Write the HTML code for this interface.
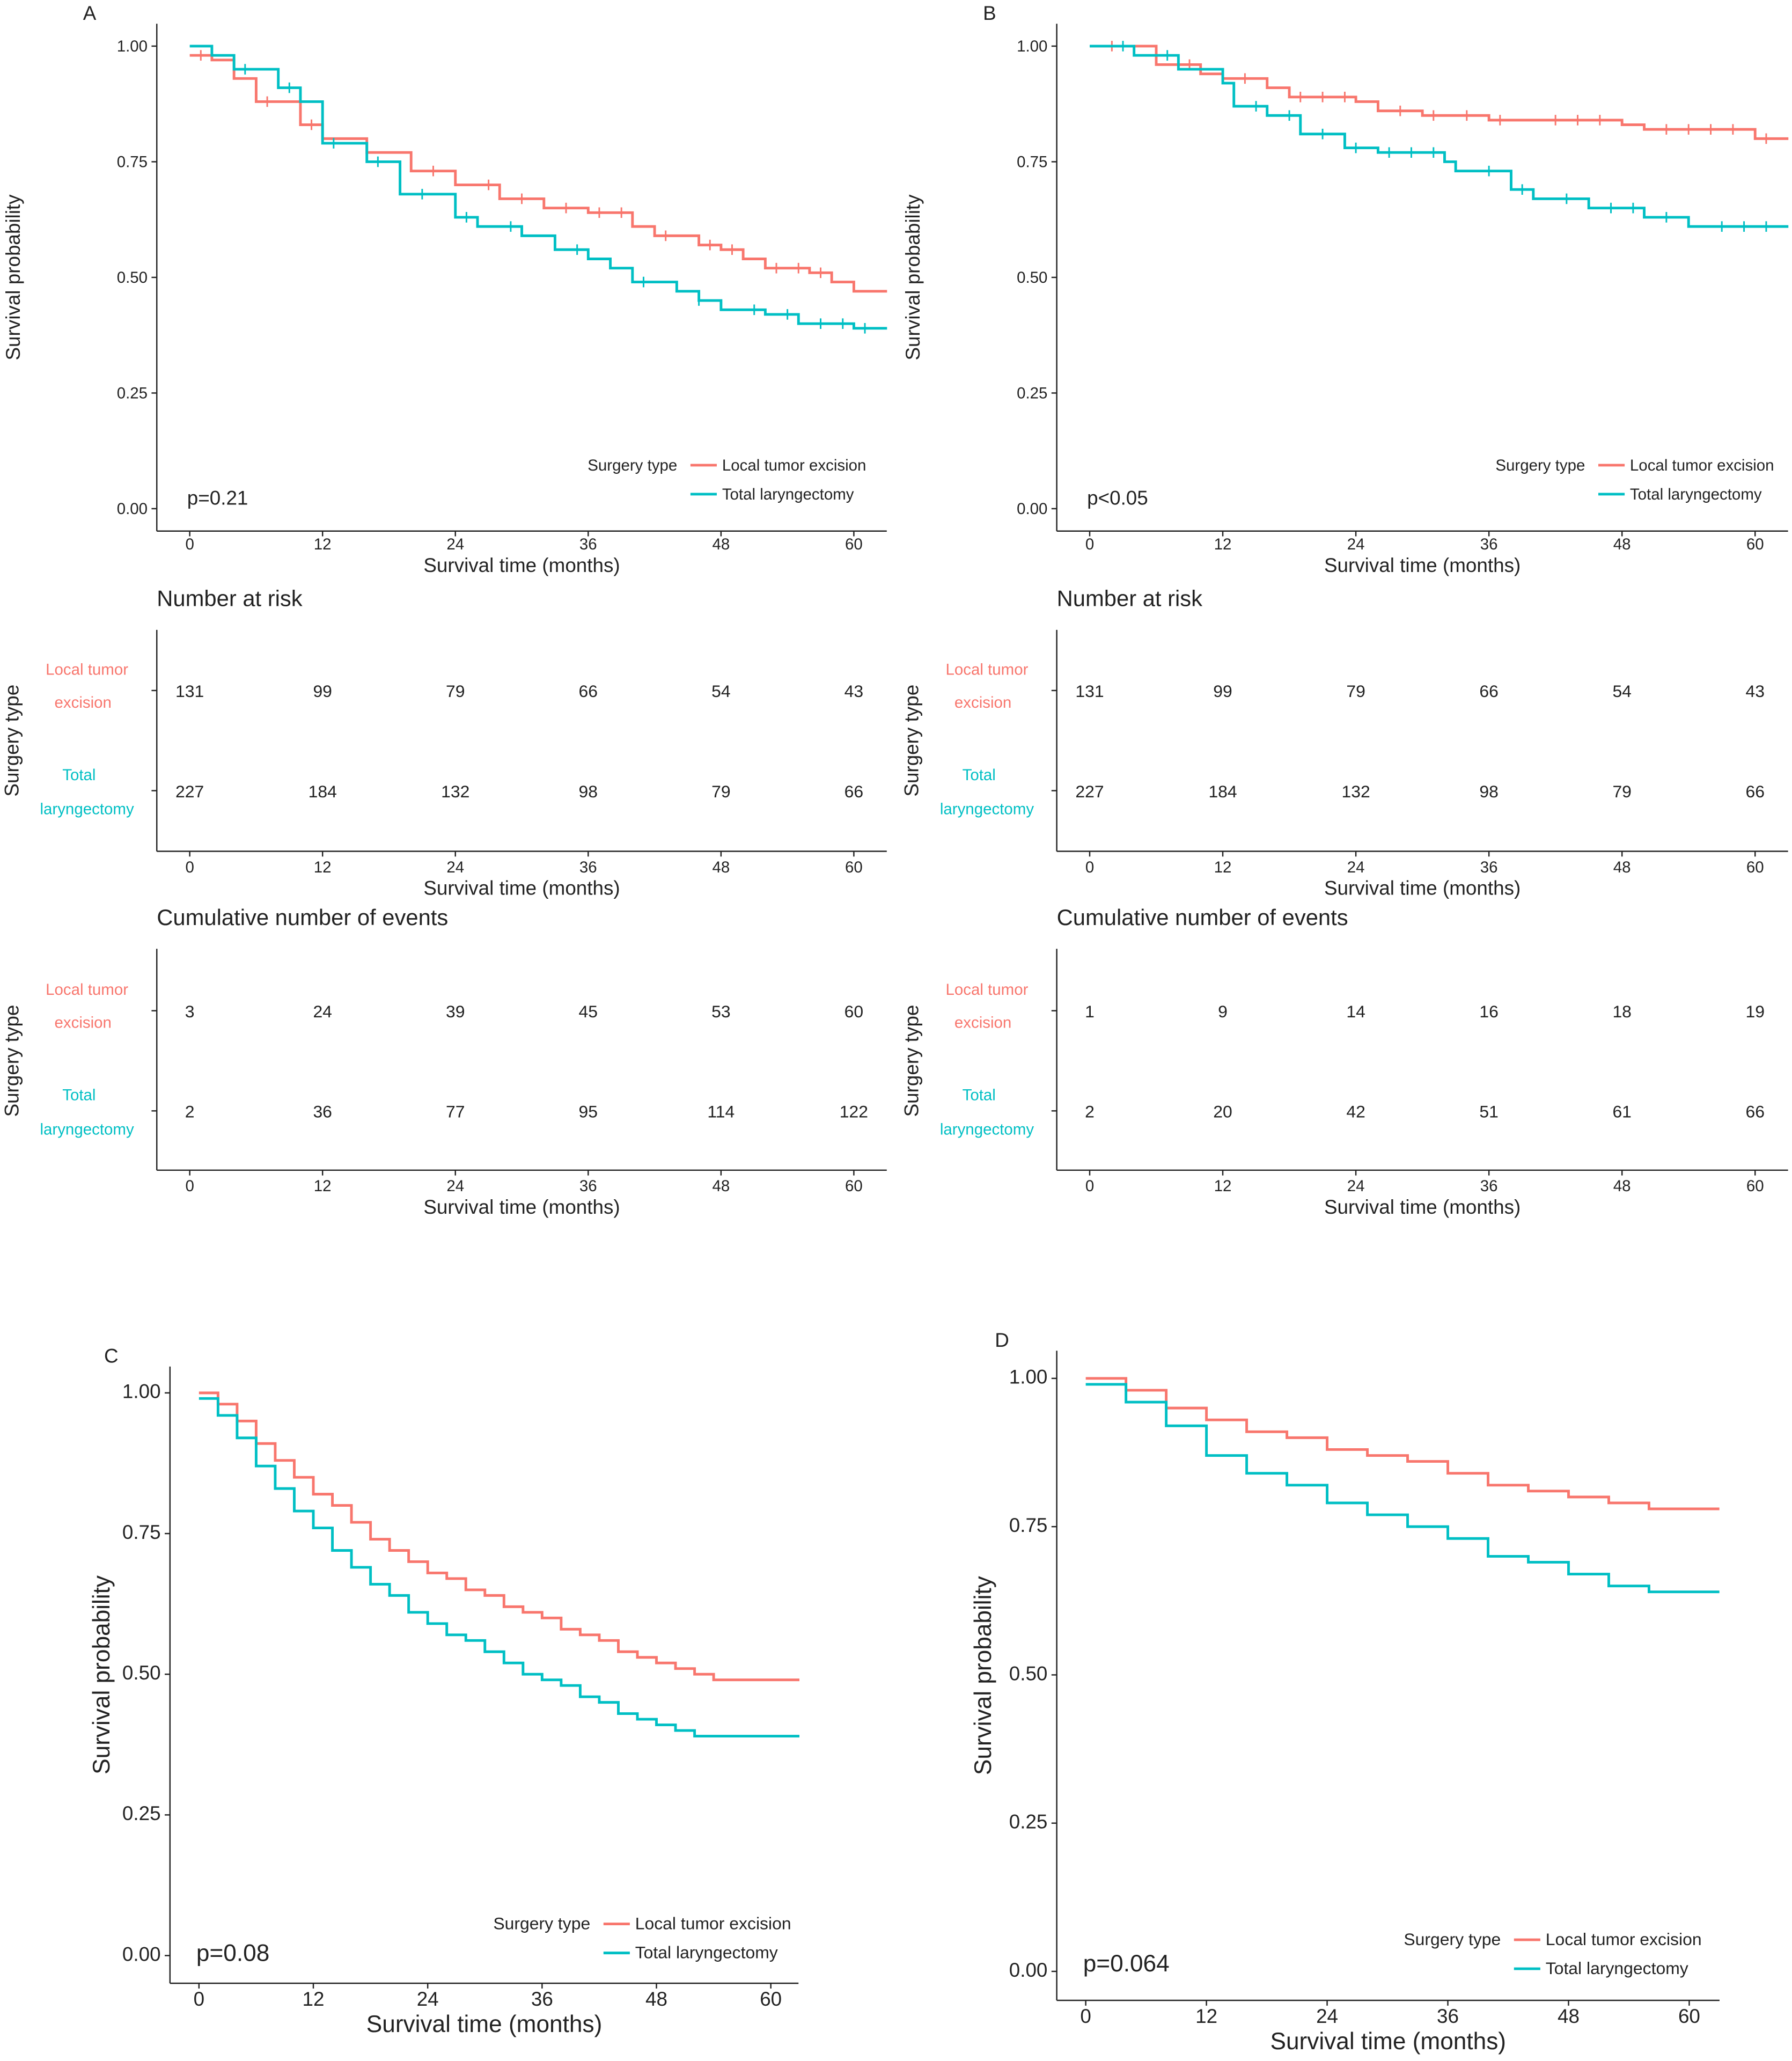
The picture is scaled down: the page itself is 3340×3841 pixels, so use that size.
<!DOCTYPE html>
<html><head><meta charset="utf-8">
<style>
html,body{margin:0;padding:0;background:#fff}
svg{display:block}
text{font-family:"Liberation Sans",sans-serif;fill:#222}
</style></head>
<body>
<svg id="s" width="3340" height="3841" viewBox="0 0 1360 1564" xmlns="http://www.w3.org/2000/svg"></svg>
<script>
const RED="#F8766D", TEAL="#00BFC4";
const ticksX=[0,12,24,36,48,60];
const ticksY=[0,0.25,0.5,0.75,1];
const tickYLabels=["0.00","0.25","0.50","0.75","1.00"];
// Panel A
const aRedT=[0,2,4,6,10,12,16,20,24,28,32,36,40,42,46,48,50,52,56,58,60,63];
const aRedS=[0.98,0.97,0.93,0.88,0.83,0.80,0.77,0.73,0.70,0.67,0.65,0.64,0.61,0.59,0.57,0.56,0.54,0.52,0.51,0.49,0.47,0.47];
const aTealT=[0,2,4,8,10,12,16,19,24,26,30,33,36,38,40,44,46,48,52,55,60,63];
const aTealS=[1.0,0.98,0.95,0.91,0.88,0.79,0.75,0.68,0.63,0.61,0.59,0.56,0.54,0.52,0.49,0.47,0.45,0.43,0.42,0.40,0.39,0.39];
const aRedC=[1,7,11,22,27,30,34,37,39,43,47,49,53,55,57];
const aTealC=[5,9,13,17,21,25,29,35,41,46,51,54,57,59,61];
// Panel B
const bRedT=[0,6,10,12,16,18,24,26,30,36,40,48,50,60,63];
const bRedS=[1.0,0.96,0.94,0.93,0.91,0.89,0.88,0.86,0.85,0.84,0.84,0.83,0.82,0.80,0.80];
const bTealT=[0,4,8,12,13,16,19,23,26,32,33,38,40,45,50,54,60,63];
const bTealS=[1.0,0.98,0.95,0.92,0.87,0.85,0.81,0.78,0.77,0.75,0.73,0.69,0.67,0.65,0.63,0.61,0.61,0.61];
const bRedC=[2,9,14,19,21,23,28,31,34,37,42,44,46,52,54,56,58,61];
const bTealC=[3,7,15,18,21,24,27,29,31,36,39,43,47,49,52,57,59,61];
// Panel C
const cRedT=[0,2,4,6,8,10,12,14,16,18,20,22,24,26,28,30,32,34,36,38,40,42,44,46,48,50,52,54,56,63];
const cRedS=[1,0.98,0.95,0.91,0.88,0.85,0.82,0.80,0.77,0.74,0.72,0.70,0.68,0.67,0.65,0.64,0.62,0.61,0.60,0.58,0.57,0.56,0.54,0.53,0.52,0.51,0.50,0.49,0.49,0.49];
const cTealT=[0,2,4,6,8,10,12,14,16,18,20,22,24,26,28,30,32,34,36,38,40,42,44,46,48,50,52,54,63];
const cTealS=[0.99,0.96,0.92,0.87,0.83,0.79,0.76,0.72,0.69,0.66,0.64,0.61,0.59,0.57,0.56,0.54,0.52,0.50,0.49,0.48,0.46,0.45,0.43,0.42,0.41,0.40,0.39,0.39,0.39];
// Panel D
const dRedT=[0,4,8,12,16,20,24,28,32,36,40,44,48,52,56,63];
const dRedS=[1.0,0.98,0.95,0.93,0.91,0.90,0.88,0.87,0.86,0.84,0.82,0.81,0.80,0.79,0.78,0.78];
const dTealT=[0,4,8,12,16,20,24,28,32,36,40,44,48,52,56,63];
const dTealS=[0.99,0.96,0.92,0.87,0.84,0.82,0.79,0.77,0.75,0.73,0.70,0.69,0.67,0.65,0.64,0.64];
// Tables
const riskLocal=[131,99,79,66,54,43];
const riskTotal=[227,184,132,98,79,66];
const evA_Local=[3,24,39,45,53,60];
const evA_Total=[2,36,77,95,114,122];
const evB_Local=[1,9,14,16,18,19];
const evB_Total=[2,20,42,51,61,66];

const svg=document.getElementById('s');
const NS="http://www.w3.org/2000/svg";
function el(tag,attrs,parent){const e=document.createElementNS(NS,tag);for(const k in attrs)e.setAttribute(k,attrs[k]);(parent||svg).appendChild(e);return e;}
function txt(x,y,s,size,opt,name){opt=opt||{};const t=el('text',{x:x,y:y,'font-size':size,'text-anchor':opt.anchor||'start'});


if(opt.fill)t.setAttribute('style','fill:'+opt.fill);if(opt.rot)t.setAttribute('transform','rotate(-90 '+x+' '+y+')');t.textContent=s;return t;}
function line(x1,y1,x2,y2,name,stroke,w){const l=el('line',{x1,y1,x2,y2,stroke:stroke||'#222','stroke-width':w||1});


return l;}

function panel(p){
  const sx=t=>p.x0+(p.x60-p.x0)*t/60, sy=v=>p.y0+(p.y1-p.y0)*v;
  line(p.ax,p.top,p.ax,p.bot,'y-axis-line');
  line(p.ax,p.bot,p.right,p.bot,'x-axis-line');
  ticksY.forEach((v,i)=>{line(p.ax-4,sy(v),p.ax,sy(v),'y-tick');txt(p.ax-7,sy(v)+4,tickYLabels[i],p.fs,{anchor:'end'},'y-tick-label');});
  ticksX.forEach(t=>{line(sx(t),p.bot,sx(t),p.bot+4,'x-tick');txt(sx(t),p.bot+p.fs+2,String(t),p.fs,{anchor:'middle'},'x-tick-label');});
  txt((p.ax+p.right)/2,p.bot+p.fs+p.tfs+4,'Survival time (months)',p.tfs,{anchor:'middle'},'x-axis-title');
  txt(p.ytx,(p.top+p.bot)/2,'Survival probability',p.tfs,{anchor:'middle',rot:1},'y-axis-title');
  txt(p.ax-56+ (p.lblx||0),p.top-3,p.label,15,{},'panel-label');
  [[p.rT,p.rS,RED,p.rC,'local-excision-curve'],[p.tT,p.tS,TEAL,p.tC,'total-laryngectomy-curve']].forEach(([T,S,c,C,n])=>{
    let d='M'+sx(T[0])+','+sy(S[0]);
    for(let i=1;i<T.length;i++){d+=' H'+sx(T[i])+' V'+sy(S[i]);}
    const pa=el('path',{d:d,fill:'none',stroke:c,'stroke-width':2});
    
    
    if(C)C.forEach(t=>{let v=S[0];for(let i=0;i<T.length;i++)if(T[i]<=t)v=S[i];
      const m=line(sx(t),sy(v)-4,sx(t),sy(v)+4,'censor-mark',c,1.2);});
  });
  txt(p.px,p.py,p.pval,p.fs+3,{},'p-value');
  txt(p.lx,p.ly,'Surgery type',p.lfs,{anchor:'end'},'legend-title');
  line(p.lx+10,p.ly-4,p.lx+30,p.ly-4,'legend-key-local',RED,2);
  txt(p.lx+34,p.ly,'Local tumor excision',p.lfs,{},'legend-entry-local');
  line(p.lx+10,p.ly+18,p.lx+30,p.ly+18,'legend-key-total',TEAL,2);
  txt(p.lx+34,p.ly+22,'Total laryngectomy',p.lfs,{},'legend-entry-total');
}
function table(t){
  const sx=v=>t.x0+(t.x60-t.x0)*v/60;
  txt(t.ax,t.top-10,t.title,17,{},'table-title');
  line(t.ax,t.top+8,t.ax,t.bot,'table-y-axis');
  line(t.ax,t.bot,t.right,t.bot,'table-x-axis');
  line(t.ax-4,t.r1,t.ax,t.r1,'row-tick');line(t.ax-4,t.r2,t.ax,t.r2,'row-tick');
  ticksX.forEach((v,i)=>{
    txt(sx(v),t.r1+5,String(t.a[i]),13,{anchor:'middle'},'table-value-local');
    txt(sx(v),t.r2+5,String(t.b[i]),13,{anchor:'middle'},'table-value-total');
    line(sx(v),t.bot,sx(v),t.bot+4,'x-tick');
    txt(sx(v),t.bot+16,String(v),12,{anchor:'middle'},'x-tick-label');
  });
  txt((t.ax+t.right)/2,t.bot+33,'Survival time (months)',15,{anchor:'middle'},'x-axis-title');
  txt(t.ax-53,t.r1-12,'Local tumor',12,{anchor:'middle',fill:RED},'row-label-local');
  txt(t.ax-56,t.r1+13,'excision',12,{anchor:'middle',fill:RED},'row-label-local');
  txt(t.ax-59,t.r2-8,'Total',12,{anchor:'middle',fill:TEAL},'row-label-total');
  txt(t.ax-53,t.r2+18,'laryngectomy',12,{anchor:'middle',fill:TEAL},'row-label-total');
  txt(t.ax-105,(t.r1+t.r2)/2,'Surgery type',15,{anchor:'middle',rot:1},'table-y-title');
}
const base={fs:12,tfs:15,lfs:12};
panel(Object.assign({},base,{label:'A',ax:119,top:18,bot:403,right:673,x0:144,x60:648,y0:386,y1:35,ytx:15,
  rT:aRedT,rS:aRedS,tT:aTealT,tS:aTealS,rC:aRedC,tC:aTealC,px:142,py:383,pval:'p=0.21',lx:514,ly:357}));
panel(Object.assign({},base,{label:'B',ax:802,top:18,bot:403,right:1357,x0:827,x60:1332,y0:386,y1:35,ytx:698,
  rT:bRedT,rS:bRedS,tT:bTealT,tS:bTealS,rC:bRedC,tC:bTealC,px:825,py:383,pval:'p<0.05',lx:1203,ly:357}));
table({title:'Number at risk',ax:119,top:470,bot:646,right:673,x0:144,x60:648,r1:524,r2:600,a:riskLocal,b:riskTotal});
table({title:'Number at risk',ax:802,top:470,bot:646,right:1357,x0:827,x60:1332,r1:524,r2:600,a:riskLocal,b:riskTotal});
table({title:'Cumulative number of events',ax:119,top:712,bot:888,right:673,x0:144,x60:648,r1:767,r2:843,a:evA_Local,b:evA_Total});
table({title:'Cumulative number of events',ax:802,top:712,bot:888,right:1357,x0:827,x60:1332,r1:767,r2:843,a:evB_Local,b:evB_Total});
panel({fs:15,tfs:18,lfs:13,label:'C',lblx:6,ax:129,top:1037,bot:1505,right:606,x0:151,x60:585,y0:1484,y1:1057,ytx:83,
  rT:cRedT,rS:cRedS,tT:cTealT,tS:cTealS,px:149,py:1488,pval:'p=0.08',lx:448,ly:1464});
panel({fs:15,tfs:18,lfs:13,label:'D',lblx:9,ax:802,top:1025,bot:1518,right:1305,x0:824,x60:1282,y0:1496,y1:1046,ytx:752,
  rT:dRedT,rS:dRedS,tT:dTealT,tS:dTealS,px:822,py:1496,pval:'p=0.064',lx:1139,ly:1476});
</script>
</body></html>
